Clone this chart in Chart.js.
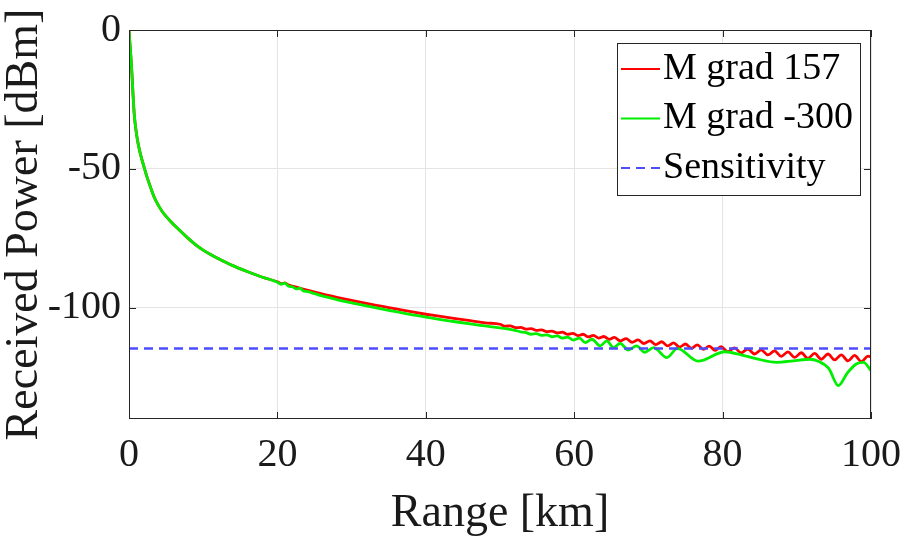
<!DOCTYPE html>
<html>
<head>
<meta charset="utf-8">
<title>Received Power vs Range</title>
<script src="https://cdn.jsdelivr.net/npm/chart.js@4.4.1/dist/chart.umd.min.js"></script>
<style>
    html, body { margin: 0; padding: 0; background: #fff; }
    #wrap { position: relative; width: 900px; height: 537px; }
</style>
</head>
<body>
<div id="wrap"><canvas id="power-chart"></canvas></div>
<script>
// Values (range in km, power in dBm)
const seriesNames = ['M grad 157', 'M grad -300', 'Sensitivity'];
const xTicks = [0, 20, 40, 60, 80, 100];
const yTicks = [0, -50, -100];

// near range, both curves lie on top of each other
const rangeNear = [0, 0.05, 0.1, 0.2, 0.3, 0.4, 0.5, 0.63, 0.8, 1.0, 1.2, 1.5, 2.06, 2.5, 3, 3.4, 4, 4.5, 5, 5.65, 6.5, 7.9, 9, 10, 11, 12, 14, 16, 18];
const powerNear = [0, -2, -4, -7.5, -11.5, -16, -21, -27.5, -33, -37.2, -40.5, -44.2, -49.6, -53.5, -57.3, -60.2, -63.3, -65.4, -67.1, -69.0, -71.3, -74.8, -77.3, -79.2, -80.8, -82.2, -84.8, -87.0, -89.0];

// M grad 157 (red)
const rangeRed = [20, 20.6, 21, 21.5, 22, 24, 26, 28, 30, 32, 34, 36, 38, 40, 42, 44, 46, 48,
    50.0, 50.7, 51.4, 52.1, 52.8, 53.5, 54.2, 54.9, 55.6, 56.3, 57.0, 57.7, 58.4, 59.1, 59.8,
    60.5, 61.2, 61.9, 62.6, 63.3, 64.0, 64.7, 65.4, 66.2, 67.0, 67.8, 68.6, 69.4,
    70.2, 71.0, 71.8, 72.6, 73.4, 74.2, 75.0, 75.8, 76.6, 77.4, 78.2, 79.0, 79.8,
    80.7, 81.6, 82.5, 83.4, 84.3, 85.2, 86.1, 87.0, 87.9, 88.8, 89.7,
    90.6, 91.5, 92.4, 93.3, 94.2, 95.1, 96.0, 96.9, 97.8, 98.7, 99.6, 100];
const powerRed = [-90.6, -91.3, -91.0, -91.8, -92.2, -93.6, -95.0, -96.2, -97.3, -98.4, -99.4, -100.4, -101.4, -102.3, -103.1, -103.9, -104.6, -105.4,
    -105.9, -106.6, -106.45, -107.15, -107.0, -107.65, -107.5, -108.1, -107.95, -108.6, -108.4, -109.05, -108.75, -109.55, -109.15,
    -110.0, -109.5, -110.45, -109.9, -110.9, -110.3, -111.35, -110.65, -111.85, -111.1, -112.4, -111.5, -112.85,
    -111.85, -113.25, -112.2, -113.7, -112.6, -114.1, -113.0, -114.55, -113.35, -114.95, -113.75, -115.3, -114.0,
    -115.8, -114.4, -116.2, -114.8, -116.6, -115.1, -116.95, -115.5, -117.45, -115.85, -117.85,
    -116.15, -118.2, -116.4, -118.5, -116.6, -118.75, -116.9, -119.1, -117.1, -119.35, -117.4, -117.6];

// M grad -300 (green)
const rangeGreen = [19, 20, 20.5, 21, 21.5, 22, 22.6, 23, 23.5, 24, 25, 26, 27, 28, 30, 32, 34, 36, 38, 40, 42, 44, 46, 48,
    50, 51, 52, 52.8, 53.5, 54.2, 54.9, 55.6, 56.3, 57.0, 57.7, 58.4, 59.1, 59.9, 60.7, 61.5, 62.4, 63.5, 64.4,
    65.3, 66.2, 67.3, 68.4, 69.5, 70.7, 72.5, 73.9, 76.7, 80.3, 82.5, 84.5, 87.3, 89.5, 91.8, 92.8,
    94.3, 95.6, 96.8, 98.0, 99.0, 100];
const powerGreen = [-89.8, -90.8, -91.5, -91.1, -92.2, -92.4, -93.2, -92.9, -93.9, -94.1, -94.9, -95.7, -96.3, -97.0, -98.2, -99.3, -100.4, -101.4, -102.4, -103.3, -104.2, -105.0, -105.8, -106.5,
    -107.2, -107.6, -108.1, -108.6, -108.9, -109.5, -109.3, -109.9, -109.7, -110.4, -110.1, -110.9, -110.5, -111.6, -110.9, -112.5, -111.3, -113.7, -111.9,
    -114.3, -112.8, -115.2, -113.7, -116.0, -114.3, -117.9, -114.6, -119.2, -115.8, -116.9, -118.3, -119.6, -119.1, -118.5, -119.1,
    -121.8, -128.0, -123.5, -120.2, -119.6, -122.6];

// Sensitivity level
const rangeSens = [0, 100];
const powerSens = [-114.6, -114.6];

const serif = '"Liberation Serif", "Times New Roman", serif';

function toPoints(xs, ys) {
    return xs.map((x, i) => ({ x: x, y: ys[i] }));
}

// Axes box with inward tick marks (MATLAB style)
const boxAndTicks = {
    id: 'boxAndTicks',
    afterDatasetsDraw(chart) {
        const { ctx, chartArea: a, scales: { x, y } } = chart;
        const len = 7;
        ctx.save();
        ctx.strokeStyle = '#262626';
        ctx.lineWidth = 1;
        ctx.strokeRect(a.left + 0.5, a.top + 0.5, a.right - a.left - 1, a.bottom - a.top - 1);
        ctx.beginPath();
        x.ticks.forEach(t => {
            const px = Math.round(x.getPixelForValue(t.value)) + 0.5;
            ctx.moveTo(px, a.bottom);
            ctx.lineTo(px, a.bottom - len);
            ctx.moveTo(px, a.top);
            ctx.lineTo(px, a.top + len);
        });
        y.ticks.forEach(t => {
            const py = Math.round(y.getPixelForValue(t.value)) + 0.5;
            ctx.moveTo(a.left, py);
            ctx.lineTo(a.left + len, py);
            ctx.moveTo(a.right, py);
            ctx.lineTo(a.right - len, py);
        });
        ctx.stroke();
        ctx.restore();
    }
};

// Legend box drawn inside the top right corner of the plot
const insideLegend = {
    id: 'insideLegend',
    afterDraw(chart) {
        const { ctx, chartArea: a } = chart;
        const boxW = 243, boxH = 152, rowH = 49.5;
        const left = a.right - 11 - boxW;
        const top = a.top + 13;
        ctx.save();
        ctx.fillStyle = '#fff';
        ctx.fillRect(left, top, boxW, boxH);
        ctx.strokeStyle = '#262626';
        ctx.lineWidth = 1;
        ctx.strokeRect(left + 0.5, top + 0.5, boxW, boxH);
        ctx.font = '38px ' + serif;
        ctx.textBaseline = 'middle';
        chart.data.datasets.forEach((ds, row) => {
            const cy = top + 26 + row * rowH;
            ctx.strokeStyle = ds.borderColor;
            ctx.lineWidth = 2;
            ctx.setLineDash(ds.borderDash || []);
            ctx.beginPath();
            ctx.moveTo(left + 4, cy);
            ctx.lineTo(left + 43, cy);
            ctx.stroke();
            ctx.fillStyle = '#000';
            ctx.fillText(ds.label, left + 46, cy);
        });
        ctx.restore();
    }
};

const ctx = document.getElementById('power-chart').getContext('2d');
new Chart(ctx, {
    type: 'line',
    data: {
        datasets: [
            {
                label: seriesNames[0],
                data: toPoints(rangeNear.concat(rangeRed), powerNear.concat(powerRed)),
                borderColor: '#ff0000',
                borderWidth: 2.8,
                order: 2
            },
            {
                label: seriesNames[1],
                data: toPoints(rangeNear.concat(rangeGreen), powerNear.concat(powerGreen)),
                borderColor: '#00ee00',
                borderWidth: 2.8,
                order: 1
            },
            {
                label: seriesNames[2],
                data: toPoints(rangeSens, powerSens),
                borderColor: '#4d4dff',
                borderWidth: 2.5,
                borderDash: [9, 6],
                order: 0
            }
        ]
    },
    options: {
        responsive: true,
        maintainAspectRatio: false,
        animation: false,
        layout: { padding: { top: 30, right: 29, left: 0, bottom: 0 } },
        elements: {
            point: { radius: 0 },
            line: { cubicInterpolationMode: 'monotone', fill: false }
        },
        plugins: {
            legend: { display: false },
            tooltip: { enabled: false }
        },
        scales: {
            x: {
                type: 'linear',
                min: 0,
                max: 100,
                afterBuildTicks: s => { s.ticks = xTicks.map(v => ({ value: v })); },
                afterFit: s => {
                    s.height = 118;
                    s.paddingLeft = 0;
                    s.paddingRight = 0;
                },
                grid: { color: '#e4e4e4', drawTicks: false },
                border: { display: false },
                ticks: {
                    color: '#1a1a1a',
                    font: { family: serif, size: 40 },
                    padding: 12,
                    maxRotation: 0,
                    callback: v => String(v)
                },
                title: {
                    display: true,
                    text: 'Range [km]',
                    color: '#1a1a1a',
                    font: { family: serif, size: 46, lineHeight: 1.0 },
                    padding: 0
                }
            },
            y: {
                type: 'linear',
                min: -140,
                max: 0,
                afterBuildTicks: s => { s.ticks = yTicks.map(v => ({ value: v })); },
                afterFit: s => {
                    s.width = 129;
                    s.paddingTop = 0;
                    s.paddingBottom = 0;
                },
                grid: { color: '#e4e4e4', drawTicks: false },
                border: { display: false },
                ticks: {
                    color: '#1a1a1a',
                    font: { family: serif, size: 40 },
                    padding: 8,
                    callback: v => String(v)
                },
                title: {
                    display: true,
                    text: 'Received Power [dBm]',
                    color: '#1a1a1a',
                    font: { family: serif, size: 46, lineHeight: 1.1 },
                    padding: 0
                }
            }
        }
    },
    plugins: [boxAndTicks, insideLegend]
});
</script>
</body>
</html>
